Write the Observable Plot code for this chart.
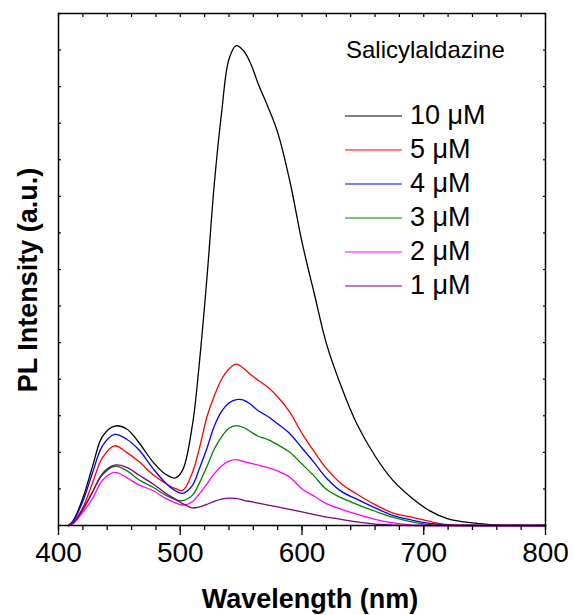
<!DOCTYPE html>
<html><head><meta charset="utf-8">
<script src="https://cdn.jsdelivr.net/npm/d3@7"></script>
<script src="https://cdn.jsdelivr.net/npm/@observablehq/plot@0.6"></script>
<style>
body{margin:0;background:#fff}
#chart{width:573px;height:615px;overflow:hidden}
</style>
</head><body><div id="chart"></div>
<script>
const wavelength = [408,412,420,428,436,446,456,466,478,488,496,502,510,516,522,528,534,540,546,552,558,564,572,580,590,600,610,620,632,645,660,675,690,705,720,740,760,780,800];
const pl10uM = [0,0.13,0.75,1.62,2.43,2.72,2.64,2.27,1.72,1.40,1.30,1.52,2.75,4.55,6.8,9.35,11.3,12.75,13.12,12.98,12.62,12.08,11.45,10.75,9.42,7.75,6.35,4.98,3.82,2.78,1.90,1.22,0.76,0.40,0.18,0.07,0.01,0,0];
const pl5uM  = [0,0.09,0.49,1.17,1.85,2.18,2.0,1.75,1.38,1.15,1.01,0.96,1.45,2.15,2.98,3.55,4.0,4.28,4.41,4.30,4.12,3.97,3.78,3.52,3.10,2.52,2.02,1.56,1.15,0.86,0.57,0.34,0.23,0.11,0.02,0,0,0,0];
const pl4uM  = [0,0.12,0.66,1.45,2.17,2.49,2.36,2.07,1.54,1.16,0.95,0.88,1.10,1.58,2.12,2.72,3.12,3.35,3.44,3.43,3.31,3.14,2.98,2.78,2.51,2.12,1.72,1.30,0.94,0.72,0.48,0.27,0.15,0.06,0.01,0,0,0,0];
const pl3uM  = [0,0.07,0.42,0.92,1.38,1.62,1.50,1.25,1.04,0.83,0.71,0.68,0.83,1.18,1.62,2.09,2.43,2.66,2.73,2.68,2.56,2.44,2.35,2.21,2.0,1.68,1.35,0.99,0.76,0.58,0.39,0.22,0.10,0.02,0,0,0,0,0];
const pl2uM  = [0,0.05,0.36,0.74,1.23,1.45,1.31,1.11,0.95,0.74,0.62,0.56,0.65,0.88,1.14,1.42,1.63,1.76,1.80,1.75,1.70,1.65,1.58,1.49,1.32,1.0,0.80,0.60,0.45,0.31,0.17,0.07,0.01,0,0,0,0,0,0];
const pl1uM  = [0,0.06,0.45,0.92,1.42,1.65,1.59,1.38,1.13,0.88,0.72,0.60,0.48,0.51,0.58,0.66,0.72,0.75,0.74,0.69,0.65,0.61,0.56,0.51,0.44,0.37,0.30,0.23,0.17,0.10,0.04,0.01,0,0,0,0,0,0,0];

const seriesNames = ["10 μM","5 μM","4 μM","3 μM","2 μM","1 μM"];
const seriesColors = ["#000000","#ff0000","#0000ff","#008000","#ff00ff","#800080"];
const seriesValues = [pl10uM, pl5uM, pl4uM, pl3uM, pl2uM, pl1uM];
const legendTitle = "Salicylaldazine";
const xLabel = "Wavelength (nm)";
const yLabel = "PL Intensity (a.u.)";
const xTicks = [400,500,600,700,800];
const xMinorTicks = d3.range(400, 801, 20);
const yTicks = d3.range(0, 15, 1);

const rows = [];
seriesValues.forEach((vals, i) => vals.forEach((v, j) => rows.push({wl: wavelength[j], pl: v, series: seriesNames[i]})));

const font = "'Liberation Sans', Arial, sans-serif";
const plot = Plot.plot({
  width: 573, height: 615,
  marginLeft: 58, marginRight: 28, marginTop: 13, marginBottom: 90,
  style: {fontFamily: font, background: "white", color: "black", overflow: "visible"},
  x: {domain: [400, 800]},
  y: {domain: [0, 14]},
  color: {domain: seriesNames, range: seriesColors},
  marks: [
    Plot.line(rows, {x: "wl", y: "pl", z: "series", stroke: "series", strokeWidth: 1.3, curve: "catmull-rom"}),
    Plot.axisX({anchor: "bottom", ticks: xMinorTicks, tickSize: 5, tickFormat: () => "", strokeWidth: 1.3, label: null}),
    Plot.axisX({anchor: "bottom", ticks: xTicks, tickSize: 10, tickPadding: 7, fontSize: 28, strokeWidth: 1.3, label: null}),
    Plot.axisX({anchor: "top", ticks: xMinorTicks, tickSize: -3, tickFormat: () => "", strokeWidth: 1.2, label: null}),
    Plot.axisY({anchor: "left", ticks: yTicks, tickSize: -3, tickFormat: () => "", strokeWidth: 1.2, label: null}),
    Plot.axisY({anchor: "right", ticks: yTicks, tickSize: -3, tickFormat: () => "", strokeWidth: 1.2, label: null}),
    Plot.frame({stroke: "black", strokeWidth: 1.5})
  ]
});
document.getElementById("chart").appendChild(plot);

const svg = d3.select(plot);
svg.append("text")
  .attr("x", 310).attr("y", 608)
  .attr("text-anchor", "middle").attr("font-weight", "bold").attr("font-size", 27)
  .attr("font-family", font).attr("fill", "black")
  .text(xLabel);
svg.append("text")
  .attr("transform", "translate(37,280) rotate(-90)")
  .attr("text-anchor", "middle").attr("font-weight", "bold").attr("font-size", 27)
  .attr("font-family", font).attr("fill", "black")
  .text(yLabel);

const lg = svg.append("g").attr("font-family", font).attr("fill", "black").attr("text-anchor", "start");
lg.append("text").attr("x", 346).attr("y", 58).attr("font-size", 24).attr("text-anchor", "start").text(legendTitle);
seriesNames.forEach((name, i) => {
  const yy = 116 + 34 * i;
  lg.append("line").attr("x1", 345).attr("x2", 402).attr("y1", yy).attr("y2", yy)
    .attr("stroke", seriesColors[i]).attr("stroke-width", 1.2);
  lg.append("text").attr("x", 410).attr("y", yy + 8).attr("font-size", 27).attr("text-anchor", "start").text(name);
});
</script>
</body></html>
